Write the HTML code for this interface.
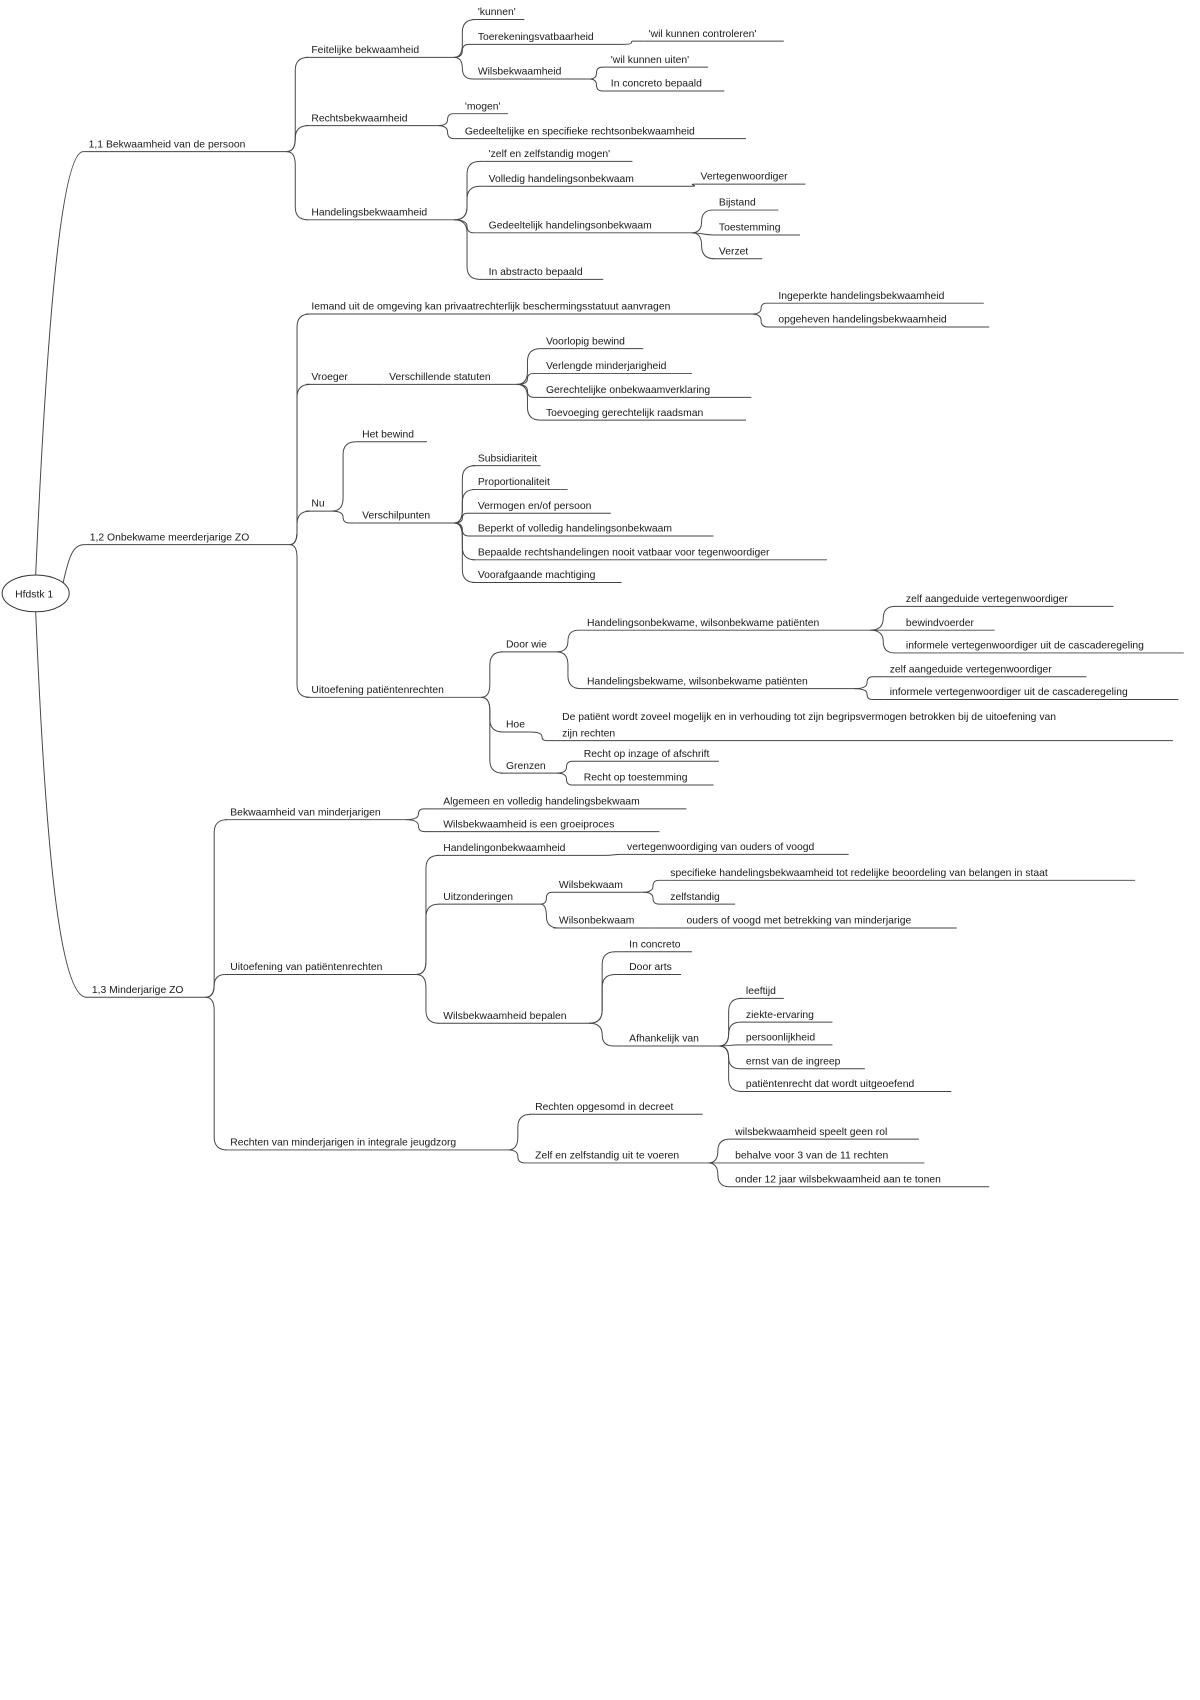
<!DOCTYPE html>
<html><head><meta charset="utf-8"><style>
html,body{margin:0;padding:0;background:#fff;}
svg{display:block;}
text{font-family:"Liberation Sans",sans-serif;font-size:9.6px;fill:#1a1a1a;}
</style></head><body>
<svg id="s" width="1200" height="1700" viewBox="0 0 1110 1570" preserveAspectRatio="none" xmlns="http://www.w3.org/2000/svg">
<g id="g" fill="none" stroke="#444" stroke-width="0.9">
<path d="M33 531 C42 330 55 140 77 140"/>
<path d="M58 540 C64 512 68 503 78 503"/>
<path d="M33 565 C42 780 55 921 80 921"/>
</g>
<ellipse cx="33" cy="548" rx="31" ry="17" fill="#fff" stroke="#333" stroke-width="0.9"/>
<text x="14" y="552">Hfdstk 1</text>
<g id="t"></g>
</svg>
<script>
var N={
a:["1,1 Bekwaamheid van de persoon",77,265,140,null],
b:["1,2 Onbekwame meerderjarige ZO",78,268,503,null],
c:["1,3 Minderjarige ZO",80,190,921,null],
a1:["Feitelijke bekwaamheid",283,420,53,"a"],
a2:["Rechtsbekwaamheid",283,405,116,"a"],
a3:["Handelingsbekwaamheid",283,420,203,"a"],
a11:["'kunnen'",437,485,18,"a1"],
a12:["Toerekeningsvatbaarheid",437,575,41,"a1"],
a13:["Wilsbekwaamheid",437,545,73,"a1"],
a121:["'wil kunnen controleren'",595,725,38,"a12"],
a131:["'wil kunnen uiten'",560,655,62,"a13"],
a132:["In concreto bepaald",560,670,84,"a13"],
a21:["'mogen'",425,470,105,"a2"],
a22:["Gedeeltelijke en specifieke rechtsonbekwaamheid",425,690,128,"a2"],
a31:["'zelf en zelfstandig mogen'",447,585,149,"a3"],
a32:["Volledig handelingsonbekwaam",447,640,172,"a3"],
a33:["Gedeeltelijk handelingsonbekwaam",447,640,215,"a3"],
a34:["In abstracto bepaald",447,558,258,"a3"],
a321:["Vertegenwoordiger",643,745,170,"a32"],
a331:["Bijstand",660,720,194,"a33"],
a332:["Toestemming",660,740,217,"a33"],
a333:["Verzet",660,705,239,"a33"],
b1:["Iemand uit de omgeving kan privaatrechterlijk beschermingsstatuut aanvragen",283,695,290,"b"],
b11:["Ingeperkte handelingsbekwaamheid",715,910,280,"b1"],
b12:["opgeheven handelingsbekwaamheid",715,915,302,"b1"],
b2:["Vroeger",283,335,355,"b"],
b21:["Verschillende statuten",355,478,355,"b2"],
b211:["Voorlopig bewind",500,595,322,"b21"],
b212:["Verlengde minderjarigheid",500,640,345,"b21"],
b213:["Gerechtelijke onbekwaamverklaring",500,695,367,"b21"],
b214:["Toevoeging gerechtelijk raadsman",500,690,388,"b21"],
b3:["Nu",283,307,472,"b"],
b31:["Het bewind",330,395,408,"b3"],
b32:["Verschilpunten",330,420,483,"b3"],
b321:["Subsidiariteit",437,500,430,"b32"],
b322:["Proportionaliteit",437,525,452,"b32"],
b323:["Vermogen en/of persoon",437,565,474,"b32"],
b324:["Beperkt of volledig handelingsonbekwaam",437,660,495,"b32"],
b325:["Bepaalde rechtshandelingen nooit vatbaar voor tegenwoordiger",437,765,517,"b32"],
b326:["Voorafgaande machtiging",437,575,538,"b32"],
b4:["Uitoefening patiëntenrechten",283,445,644,"b"],
b41:["Door wie",463,515,602,"b4"],
b42:["Hoe",463,490,676,"b4"],
b43:["Grenzen",463,515,714,"b4"],
b411:["Handelingsonbekwame, wilsonbekwame patiënten",538,805,582,"b41"],
b412:["Handelingsbekwame, wilsonbekwame patiënten",538,790,636,"b41"],
b4111:["zelf aangeduide vertegenwoordiger",833,1030,560,"b411"],
b4112:["bewindvoerder",833,920,582,"b411"],
b4113:["informele vertegenwoordiger uit de cascaderegeling",833,1095,603,"b411"],
b4121:["zelf aangeduide vertegenwoordiger",818,1005,625,"b412"],
b4122:["informele vertegenwoordiger uit de cascaderegeling",818,1090,646,"b412"],
b421:["zijn rechten",515,1085,684,"b42"],
b431:["Recht op inzage of afschrift",535,665,703,"b43"],
b432:["Recht op toestemming",535,660,725,"b43"],
c1:["Bekwaamheid van minderjarigen",208,375,757,"c"],
c11:["Algemeen en volledig handelingsbekwaam",405,635,747,"c1"],
c12:["Wilsbekwaamheid is een groeiproces",405,610,768,"c1"],
c2:["Uitoefening van patiëntenrechten",208,385,900,"c"],
c21:["Handelingonbekwaamheid",405,560,790,"c2"],
c22:["Uitzonderingen",405,500,835,"c2"],
c23:["Wilsbekwaamheid bepalen",405,545,945,"c2"],
c211:["vertegenwoordiging van ouders of voogd",575,785,789,"c21"],
c221:["Wilsbekwaam",512,595,824,"c22"],
c222:["Wilsonbekwaam",512,600,857,"c22"],
c2211:["specifieke handelingsbekwaamheid tot redelijke beoordeling van belangen in staat",615,1050,813,"c221"],
c2212:["zelfstandig",615,680,835,"c221"],
c2221:["ouders of voogd met betrekking van minderjarige",630,885,857,"c222"],
c231:["In concreto",577,640,879,"c23"],
c232:["Door arts",577,630,900,"c23"],
c233:["Afhankelijk van",577,665,966,"c23"],
c2331:["leeftijd",685,725,922,"c233"],
c2332:["ziekte-ervaring",685,770,944,"c233"],
c2333:["persoonlijkheid",685,770,965,"c233"],
c2334:["ernst van de ingreep",685,800,987,"c233"],
c2335:["patiëntenrecht dat wordt uitgeoefend",685,880,1008,"c233"],
c3:["Rechten van minderjarigen in integrale jeugdzorg",208,470,1062,"c"],
c31:["Rechten opgesomd in decreet",490,650,1029,"c3"],
c32:["Zelf en zelfstandig uit te voeren",490,655,1074,"c3"],
c321:["wilsbekwaamheid speelt geen rol",675,850,1052,"c32"],
c322:["behalve voor 3 van de 11 rechten",675,855,1074,"c32"],
c323:["onder 12 jaar wilsbekwaamheid aan te tonen",675,915,1096,"c32"]
};
var g=document.getElementById('g'),t=document.getElementById('t'),NS="http://www.w3.org/2000/svg";
function add(p,tag,at,txt){var e=document.createElementNS(NS,tag);for(var k in at)e.setAttribute(k,at[k]);if(txt)e.textContent=txt;p.appendChild(e);}
function conn(px,py,cx,cy){
 var tx=px+Math.min(12,(cx-px)*0.45),d;
 var dy=cy-py,s=dy>0?1:-1,r=Math.min(12,Math.abs(dy)/2);
 if(Math.abs(dy)<3){d="M"+px+" "+py+" C"+(px+8)+" "+py+" "+(cx-8)+" "+cy+" "+cx+" "+cy;}
 else d="M"+px+" "+py+" Q"+tx+" "+py+" "+tx+" "+(py+s*r)+" L"+tx+" "+(cy-s*r)+" Q"+tx+" "+cy+" "+(tx+r)+" "+cy+" L"+cx+" "+cy;
 add(g,'path',{d:d});
}
for(var k in N){var n=N[k];
 add(g,'line',{x1:n[1],y1:n[3],x2:n[2],y2:n[3]});
 add(t,'text',{x:n[1]+5,y:n[3]-4},n[0]);
 if(n[4]){var p=N[n[4]];conn(p[2],p[3],n[1],n[3]);}
}
add(t,'text',{x:520,y:665},"De patiënt wordt zoveel mogelijk en in verhouding tot zijn begripsvermogen betrokken bij de uitoefening van");
</script>
</body></html>
